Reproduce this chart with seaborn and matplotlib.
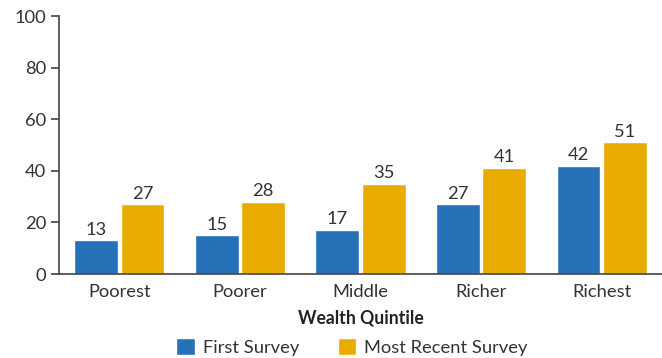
import matplotlib
matplotlib.use("Agg")
import matplotlib.pyplot as plt
import seaborn as sns
import pandas as pd

quintiles = ["Poorest", "Poorer", "Middle", "Richer", "Richest"]
first_survey = [13, 15, 17, 27, 42]
recent_survey = [27, 28, 35, 41, 51]
series_names = ["First Survey", "Most Recent Survey"]
y_ticks = [0, 20, 40, 60, 80, 100]

colors = ["#2771b8", "#eaab00"]
text_color = "#333333"
fs = 13.2

df = pd.DataFrame({
    "quintile": quintiles * 2,
    "value": first_survey + recent_survey,
    "survey": [series_names[0]] * len(quintiles) + [series_names[1]] * len(quintiles),
})

sns.set_style("white")
plt.rcParams["font.family"] = ["Lato", "DejaVu Sans"]

fig = plt.figure(figsize=(6.62, 3.58), dpi=100)
ax = fig.add_axes([0.0891, 0.2346, 0.9109, 0.7207])

sns.barplot(data=df, x="quintile", y="value", hue="survey", order=quintiles,
            hue_order=series_names, palette=colors, width=0.77, gap=0.055,
            saturation=1, ax=ax, legend=True)

for cont in ax.containers:
    ax.bar_label(cont, fmt="%d", padding=2, fontsize=fs, color=text_color)

ax.set_xlim(-0.5, 4.5)
ax.set_ylim(0, 100)
ax.set_yticks(y_ticks)
ax.set_ylabel("")
ax.set_xlabel("Wealth Quintile", fontsize=fs - 0.5, fontweight="bold", color="#222222", labelpad=7)

for side in ["top", "right"]:
    ax.spines[side].set_visible(False)
for side in ["left", "bottom"]:
    ax.spines[side].set_color("#444444")
    ax.spines[side].set_linewidth(1.2)

ax.tick_params(axis="y", length=6, width=1.2, color="#444444", labelsize=fs,
               labelcolor=text_color, pad=3, left=True)
ax.tick_params(axis="x", length=0, labelsize=fs, labelcolor=text_color, pad=7)

handles, labels = ax.get_legend_handles_labels()
ax.get_legend().remove()
fig.legend(handles, labels, loc="lower center", bbox_to_anchor=(0.532, -0.04), ncol=2,
           frameon=False, fontsize=fs, handlelength=1.0, handleheight=1.0,
           handletextpad=0.45, columnspacing=2.1, labelcolor=text_color)

fig.savefig("out.png", dpi=100)
